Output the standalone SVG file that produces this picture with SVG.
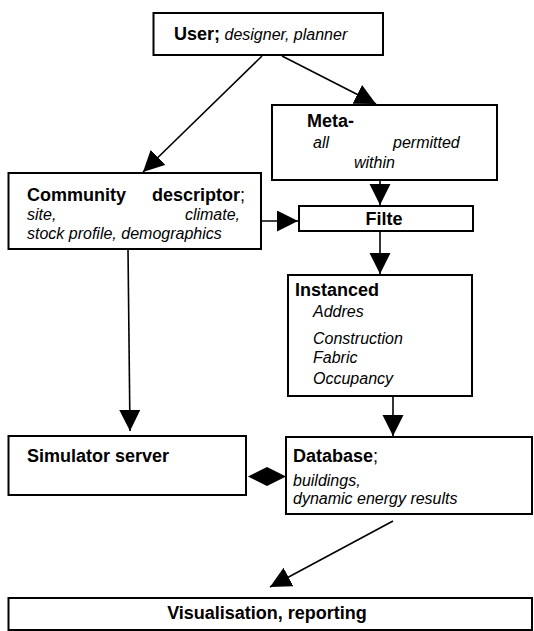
<svg xmlns="http://www.w3.org/2000/svg" width="534" height="631" viewBox="0 0 534 631">
<defs>
<style>
.box{fill:#fff;stroke:#000;stroke-width:2}
.b{font-family:"Liberation Sans",Arial,sans-serif;font-weight:bold;font-size:18px;fill:#000}
.i{font-family:"Liberation Sans",Arial,sans-serif;font-style:italic;font-size:16px;fill:#000}
.r{font-weight:normal;font-style:normal}
.ln{fill:none;stroke:#000;stroke-width:1.6}
</style>
<marker id="ah" markerUnits="userSpaceOnUse" markerWidth="22" markerHeight="22" refX="21" refY="10.5" orient="auto">
<path d="M0,0 L21,10.5 L0,21 z" fill="#000"/>
</marker>
</defs>
<rect width="534" height="631" fill="#fff"/>
<g id="connectors">
<line class="ln" x1="262" y1="56" x2="143" y2="172" marker-end="url(#ah)"/>
<line class="ln" x1="282" y1="56" x2="376" y2="104" marker-end="url(#ah)"/>
<line class="ln" x1="380" y1="180" x2="380" y2="205" marker-end="url(#ah)"/>
<line class="ln" x1="261" y1="221" x2="298" y2="221" marker-end="url(#ah)"/>
<line class="ln" x1="380" y1="231" x2="380" y2="274" marker-end="url(#ah)"/>
<line class="ln" x1="128" y1="249" x2="130" y2="431" marker-end="url(#ah)"/>
<line class="ln" x1="393" y1="396" x2="393" y2="436" marker-end="url(#ah)"/>
<line class="ln" x1="393" y1="521" x2="270" y2="587" marker-end="url(#ah)"/>
<polygon points="248,476.5 267,467 286,476.5 267,486" fill="#000"/>
</g>
<g id="user">
<rect class="box" x="153.5" y="13" width="229.5" height="42"/>
<text x="174" y="40"><tspan class="b">User;</tspan><tspan class="i"> designer, planner</tspan></text>
</g>
<g id="meta">
<rect class="box" x="272" y="105" width="225" height="75"/>
<text class="b" x="307" y="127">Meta-</text>
<text class="i" x="313" y="148">all</text>
<text class="i" x="393" y="148">permitted</text>
<text class="i" x="354" y="168">within</text>
</g>
<g id="community">
<rect class="box" x="8.5" y="173" width="252.5" height="76"/>
<text class="b" x="27" y="201">Community</text>
<text class="b" x="245" y="201" text-anchor="end">descriptor<tspan class="r">;</tspan></text>
<text class="i" x="27" y="220">site,</text>
<text class="i" x="240" y="220" text-anchor="end">climate,</text>
<text class="i" x="27" y="239">stock profile, demographics</text>
</g>
<g id="filter">
<rect class="box" x="299" y="206" width="174" height="25"/>
<text class="b" x="384" y="225" text-anchor="middle">Filte</text>
</g>
<g id="instanced">
<rect class="box" x="288" y="275" width="184" height="121"/>
<text class="b" x="295" y="296">Instanced</text>
<text class="i" x="313" y="317">Addres</text>
<text class="i" x="313" y="344">Construction</text>
<text class="i" x="313" y="363">Fabric</text>
<text class="i" x="313" y="384">Occupancy</text>
</g>
<g id="simulator">
<rect class="box" x="8.5" y="436" width="237.5" height="59"/>
<text class="b" x="27" y="462">Simulator server</text>
</g>
<g id="database">
<rect class="box" x="286" y="437" width="246" height="77"/>
<text class="b" x="293" y="462">Database<tspan class="r">;</tspan></text>
<text class="i" x="293" y="486">buildings,</text>
<text class="i" x="293" y="504">dynamic energy results</text>
</g>
<g id="visualisation">
<rect class="box" x="8.5" y="598" width="523.5" height="32"/>
<text class="b" x="267" y="619" text-anchor="middle">Visualisation, reporting</text>
</g>
</svg>
